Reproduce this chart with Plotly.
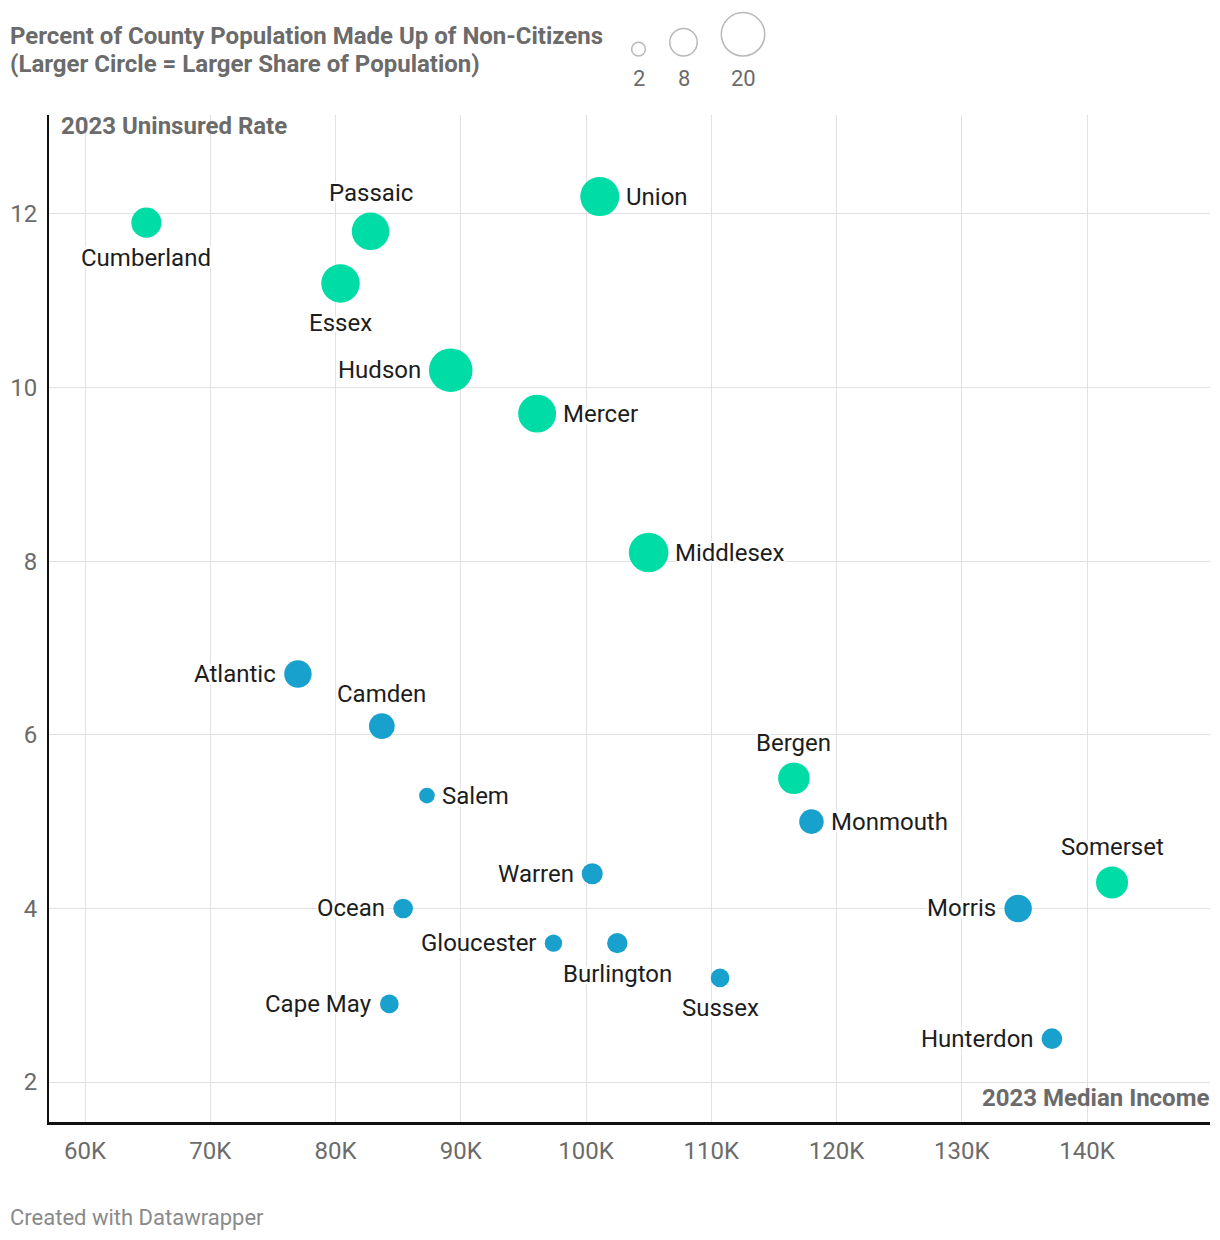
import plotly.graph_objects as go

# ---------------- data ----------------
counties = ["Cumberland", "Passaic", "Essex", "Union", "Hudson", "Mercer", "Middlesex",
            "Atlantic", "Camden", "Salem", "Bergen", "Monmouth", "Somerset", "Warren",
            "Morris", "Ocean", "Gloucester", "Burlington", "Sussex", "Cape May", "Hunterdon"]
median_income = [64900, 82800, 80400, 101100, 89200, 96100, 105000,
                 77000, 83700, 87300, 116600, 118000, 142000, 100500,
                 134500, 85400, 97400, 102500, 110700, 84300, 137200]
uninsured_rate = [11.9, 11.8, 11.2, 12.2, 10.2, 9.7, 8.1,
                  6.7, 6.1, 5.3, 5.5, 5.0, 4.3, 4.4,
                  4.0, 4.0, 3.6, 3.6, 3.2, 2.9, 2.5]
noncitizen_pct = [9.6, 15.0, 15.7, 16.2, 20.2, 15.3, 16.7,
                  8.0, 7.0, 2.6, 10.6, 6.4, 10.9, 4.7,
                  8.0, 4.1, 3.2, 4.4, 3.7, 3.7, 4.5]
group = ["high", "high", "high", "high", "high", "high", "high",
         "low", "low", "low", "high", "low", "high", "low",
         "low", "low", "low", "low", "low", "low", "low"]
x_tickvals = [60000, 70000, 80000, 90000, 100000, 110000, 120000, 130000, 140000]
x_ticktext = ["60K", "70K", "80K", "90K", "100K", "110K", "120K", "130K", "140K"]
y_tickvals = [2, 4, 6, 8, 10, 12]
legend_values = [2, 8, 20]

# ---------------- style ----------------
COLORS = {"high": "#00dca6", "low": "#18a1cd"}
LABEL_SIDE = {
    "Cumberland": "bottom", "Passaic": "top", "Essex": "bottom",
    "Union": "right", "Hudson": "left", "Mercer": "right",
    "Middlesex": "right", "Atlantic": "left", "Camden": "top",
    "Salem": "right", "Bergen": "top", "Monmouth": "right",
    "Somerset": "top", "Warren": "left", "Morris": "left",
    "Ocean": "left", "Gloucester": "left", "Burlington": "bottom",
    "Sussex": "bottom", "Cape May": "left", "Hunterdon": "left",
}
FONT = "Roboto"
GRAY = "#6b6b6b"
K = 4.85                     # radius px per sqrt(percent)
SIZEREF = 1.0 / (2 * K * K)  # plotly area-mode: r = sqrt(v / (2*sizeref))
FS_BOLD = 24
FS_TEXT = 24

W, H = 1220, 1240
ML, MR, MT, MB = 49, 10, 115, 118
PW, PH = W - ML - MR, H - MT - MB


def px(x):
    return (x - ML) / PW


def py(y):
    return (H - MB - y) / PH


HALO = ("white 2px 0px 1px, white -2px 0px 1px, white 0px 2px 1px, white 0px -2px 1px, "
        "white 2px 2px 1px, white -2px -2px 1px, white 2px -2px 1px, white -2px 2px 1px")

fig = go.Figure()
fig.add_trace(go.Scatter(
    x=median_income, y=uninsured_rate,
    mode="markers",
    marker=dict(size=noncitizen_pct, sizemode="area", sizeref=SIZEREF,
                color=[COLORS[g] for g in group], line=dict(width=0), opacity=1),
    cliponaxis=False,
    hoverinfo="skip",
    showlegend=False,
))

annotations = []
# point labels, offset from each circle's edge
for name, xv, yv, v in zip(counties, median_income, uninsured_rate, noncitizen_pct):
    r = K * (v ** 0.5)
    side = LABEL_SIDE[name]
    a = dict(text=name, x=xv, y=yv, xref="x", yref="y", showarrow=False, borderpad=0,
             font=dict(family=FONT, size=FS_TEXT, color="#1d1d1d", shadow=HALO))
    if side == "right":
        a.update(xanchor="left", yanchor="middle", xshift=r + 6)
    elif side == "left":
        a.update(xanchor="right", yanchor="middle", xshift=-(r + 7))
    elif side == "top":
        a.update(xanchor="center", yanchor="bottom", yshift=r + 4.5)
    else:
        a.update(xanchor="center", yanchor="top", yshift=-(r + 5.5))
    annotations.append(a)

# size legend: outline circles whose radius follows the same area scale
leg_x = [638.5, 683.5, 743]
leg_bottom = 56
shapes = []
for xv, v in zip(leg_x, legend_values):
    r = K * (v ** 0.5)
    cy = leg_bottom - r
    shapes.append(dict(type="circle", xref="paper", yref="paper",
                       xsizemode="pixel", ysizemode="pixel",
                       xanchor=px(xv), yanchor=py(cy),
                       x0=-r, x1=r, y0=-r, y1=r,
                       line=dict(color="#b8b8b8", width=1.5), fillcolor="rgba(0,0,0,0)"))

heads = [
    dict(text="<b>Percent of County Population Made Up of Non-Citizens</b>",
         x=px(8), y=py(36), xanchor="left", yanchor="middle"),
    dict(text="<b>(Larger Circle = Larger Share of Population)</b>",
         x=px(8), y=py(64), xanchor="left", yanchor="middle"),
    dict(text="<b>2023 Uninsured Rate</b>", x=px(59), y=py(126),
         xanchor="left", yanchor="middle"),
    dict(text="<b>2023 Median Income</b>", x=px(1211), y=py(1098),
         xanchor="right", yanchor="middle"),
]
for a in heads:
    a.update(xref="paper", yref="paper", showarrow=False,
             font=dict(family=FONT, size=FS_BOLD, color=GRAY))
annotations += heads
for xv, v in zip(leg_x, legend_values):
    annotations.append(dict(text=str(v), x=px(xv), y=py(78), xref="paper", yref="paper",
                            xanchor="center", yanchor="middle", showarrow=False,
                            font=dict(family=FONT, size=22, color=GRAY)))
annotations.append(dict(text="Created with Datawrapper", x=px(8), y=py(1217),
                        xref="paper", yref="paper", xanchor="left", yanchor="middle",
                        showarrow=False, font=dict(family=FONT, size=22, color="#8a8a8a")))

fig.update_layout(
    width=W, height=H,
    margin=dict(l=ML, r=MR, t=MT, b=MB, pad=0),
    paper_bgcolor="white", plot_bgcolor="white",
    font=dict(family=FONT, size=20, color=GRAY),
    xaxis=dict(range=[57126, 149820], tickvals=x_tickvals, ticktext=x_ticktext,
               showgrid=True, gridcolor="#e2e2e2", gridwidth=1.3, zeroline=False,
               showline=True, linecolor="#111111", linewidth=2.5,
               ticks="", ticklabelstandoff=5,
               tickfont=dict(family=FONT, size=24, color=GRAY), fixedrange=True),
    yaxis=dict(range=[1.54, 13.14], tickvals=y_tickvals,
               showgrid=True, gridcolor="#e2e2e2", gridwidth=1.3, zeroline=False,
               showline=True, linecolor="#111111", linewidth=2,
               ticks="", ticklabelstandoff=5,
               tickfont=dict(family=FONT, size=24, color=GRAY), fixedrange=True),
    shapes=shapes,
    annotations=annotations,
)

fig.write_html("out.html", config={"displayModeBar": False},
               post_script="document.body.style.margin='0px';")
